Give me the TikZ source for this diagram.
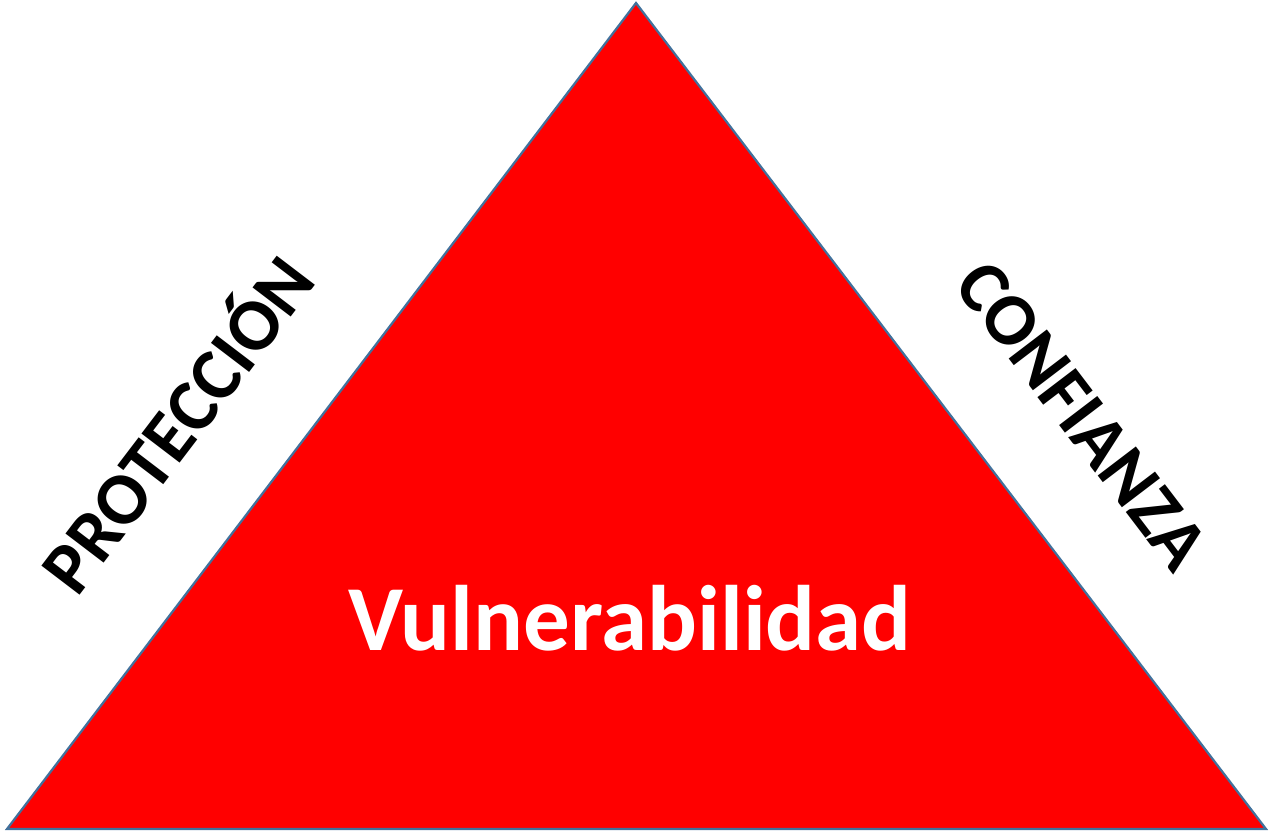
\documentclass[tikz,border=0pt]{standalone}
\usepackage{fontspec}
\setmainfont{Carlito}
\begin{document}
\begin{tikzpicture}[x=1pt,y=-1pt,
  lbl/.style={font=\bfseries\fontsize{74}{78}\selectfont, text=black, inner sep=0pt}]
\useasboundingbox (0,0) rectangle (1271,833);
\coordinate (top) at (636,3);
\coordinate (bl) at (7,829);
\coordinate (br) at (1266,829);
\draw[draw={rgb,255:red,65;green,113;blue,156}, line width=2.2pt, fill={rgb,255:red,255;green,0;blue,0}, line join=miter]
  (top) -- (bl) -- (br) -- cycle;
\node[lbl, rotate=52.7, anchor=base] (prot) at (198,440) {PROTECCIÓN};
\node[lbl, rotate=-52.7, anchor=base] (conf) at (1063,430) {CONFIANZA};
\node[font=\bfseries\fontsize{93}{96}\selectfont, text=white, inner sep=0pt, anchor=base] (vul) at (630,650) {Vulnerabilidad};
\end{tikzpicture}
\end{document}
